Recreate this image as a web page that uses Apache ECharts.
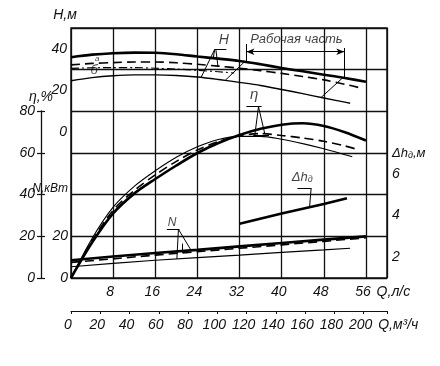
<!DOCTYPE html>
<html><head><meta charset="utf-8">
<script src="https://cdn.jsdelivr.net/npm/echarts@6/dist/echarts.min.js"></script>
<style>html,body{margin:0;padding:0;background:#fff}#c{width:440px;height:366px}</style>
</head><body><div id="c"></div>
<script>
// ---- data (Q in l/s) ----
const Q_H   = [0,4,8,12,16,20,24,28,32,36,40,44,48,52,56];
const H_full= [36.0,37.2,37.9,38.2,38.1,37.4,36.3,35.3,34.2,32.6,30.8,29.2,27.6,26.0,24.2];
const Q_Ha  = [0,4,8,12,16,20,24,28,32,36,40,44,48,52,55];
const H_a   = [32.3,33.0,33.4,33.7,33.7,33.3,32.6,31.7,30.7,29.5,28.2,26.7,25.1,23.0,21.2];
const Q_Hc  = [0,4,8,12,16,20,24,28,31];
const H_c   = [30.6,30.9,31.0,31.0,30.7,30.3,29.7,29.0,28.4];
const Q_Hb  = [0,4,8,12,16,20,24,28,32,36,40,44,48,52,53];
const H_b   = [24.7,26.2,27.1,27.5,27.5,27.2,26.5,25.3,23.9,22.4,20.5,18.5,16.4,14.4,13.9];

const Q_eta   = [0,4,8,12,16,20,24,28,32,36,40,44,48,52,56];
const eta_full= [0,17,31,40.5,47.5,54,60,64.8,68.6,71.6,73.6,74.3,73,70,66];
const Q_eta_a = [0,4,8,12,16,20,24,28,32,36,40,44,48,52,54];
const eta_a   = [0,18,32.5,42,49.5,56,61.5,65.5,68.3,69.3,68.4,67.2,65.6,63.4,62];
const Q_eta_b = [0,4,8,12,16,20,24,28,32,36,40,44,48,52,53.4];
const eta_b   = [0,19,34,44,51.5,58,63,66.5,68,68,66.6,64.5,62,59.2,58.2];

const Q_N   = [0,8,16,24,32,40,48,56];
const N_full= [8.5,10.3,12,13.5,15.2,16.8,18.4,20];
const N_a   = [7.5,9.2,11,12.6,14.3,15.9,17.6,19.3];
const Q_Nb  = [0,8,16,24,32,40,48,53];
const N_b   = [5.4,7,8.5,9.8,11,12.3,13.5,14.3];

const Q_dh = [32,40,48,52.4];
const dh   = [3.6,4.1,4.55,4.83];

// tick labels
const H_ticks   = [0,20,40];
const N_ticks   = [0,20];
const dh_ticks  = [2,4,6];
const FONT = "'Liberation Sans',Arial,sans-serif";
const INK = '#111';
const TXT = {fontFamily:FONT, fontStyle:'italic', fontSize:14, color:INK};

function pairs(qs, vs){ return qs.map((q,i)=>[q, vs[i]]); }
function seg(a,b){ return [{coord:a},{coord:b}]; }

const baseLine = (name, data, yIdx, width, type, extra) => Object.assign({
  name, type:'line', xAxisIndex:0, yAxisIndex:yIdx, data, symbol:'none', smooth:0.3,
  silent:true, animation:false,
  lineStyle:{color:'#000', width, type}
}, extra||{});
const ML = (data) => ({silent:true, animation:false, symbol:['none','none'], label:{show:false},
  lineStyle:{color:'#000', width:1, type:'solid'}, emphasis:{disabled:true}, data});

const textSeries = (yIdx, items) => ({
  type:'scatter', xAxisIndex:0, yAxisIndex:yIdx, symbolSize:1, silent:true, animation:false,
  itemStyle:{color:'rgba(0,0,0,0)'},
  label:{show:true, position:'inside', ...TXT},
  data: items.map(it => ({value:[it[0],it[1]], label:Object.assign({formatter:it[2]}, it[3]||{})}))
});

const option = {
  backgroundColor:'#fff',
  animation:false,
  grid:[
    {left:71, top:28, width:316, height:250, show:true, borderColor:INK, borderWidth:1.5, outerBoundsMode:'none', containLabel:false},
    {left:41, top:111, width:1, height:167, show:false, outerBoundsMode:'none', containLabel:false}
  ],
  xAxis:[
    {type:'value', gridIndex:0, min:0, max:60, interval:8, position:'bottom',
     axisLine:{show:false, onZero:false}, axisTick:{show:false},
     splitLine:{show:true, lineStyle:{color:INK, width:1.3}},
     axisLabel:{...TXT, margin:7, padding:[0,6,0,0], hideOverlap:false,
       formatter:v => (v===0||v===60)?'':String(v)},
     name:'Q,л/с', nameLocation:'end', nameGap:-11,
     nameTextStyle:{...TXT, verticalAlign:'top', padding:[7,0,0,0]}},
    {type:'value', gridIndex:0, min:0, max:216, interval:20, position:'bottom', offset:33,
     axisLine:{show:true, onZero:false, lineStyle:{color:INK, width:1}},
     axisTick:{show:true, length:3, lineStyle:{color:INK, width:1}},
     splitLine:{show:false},
     axisLabel:{...TXT, margin:7, padding:[0,6,0,0], hideOverlap:false,
       formatter:v => v===216?'':String(v)},
     name:'Q,м³/ч', nameLocation:'end', nameGap:-19,
     nameTextStyle:{...TXT, verticalAlign:'top', padding:[7,0,0,0]}},
    {type:'value', gridIndex:1, min:0, max:1, show:false}
  ],
  yAxis:[
    {type:'value', gridIndex:0, position:'left', min:-70, max:50, interval:10,
     axisLine:{show:false, onZero:false}, axisTick:{show:false}, splitLine:{show:false},
     axisLabel:{...TXT, margin:4, formatter:v => H_ticks.includes(v)?String(v):''},
     name:'H,м', nameLocation:'end', nameGap:6,
     nameTextStyle:{...TXT, padding:[0,12,0,0]}},
    {type:'value', gridIndex:0, position:'left', min:0, max:120, interval:20,
     axisLine:{show:false, onZero:false}, axisTick:{show:false}, axisLabel:{show:false},
     splitLine:{show:true, lineStyle:{color:INK, width:1.3}}},
    {type:'value', gridIndex:0, position:'left', min:0, max:120, interval:1,
     axisLine:{show:false, onZero:false}, axisTick:{show:false}, splitLine:{show:false},
     axisLabel:{...TXT, margin:3, formatter:v => N_ticks.includes(v)?String(v):(v===43?'{n|N,кВт}':''),
       rich:{n:{...TXT, fontSize:12}}}},
    {type:'value', gridIndex:0, position:'right', min:1, max:13, interval:1,
     axisLine:{show:false, onZero:false}, axisTick:{show:false}, splitLine:{show:false},
     axisLabel:{...TXT, margin:5, formatter:v => dh_ticks.includes(v)?String(v):(v===7?'{a|Δh}{s|д}{a|,м}':''),
       rich:{a:{...TXT, fontSize:13}, s:{...TXT, fontSize:9, padding:[5,0,0,0]}}}},
    {type:'value', gridIndex:1, position:'left', min:0, max:80, interval:20,
     axisLine:{show:true, onZero:false, lineStyle:{color:INK, width:1.3}},
     axisTick:{show:true, length:4, lineStyle:{color:INK, width:1.2}},
     splitLine:{show:false},
     axisLabel:{...TXT, margin:6},
     name:'η,%', nameLocation:'end', nameGap:5, nameTextStyle:{...TXT}},
    {type:'value', gridIndex:1, position:'left', min:0, max:80, interval:20,
     axisLine:{show:false, onZero:false}, axisLabel:{show:false}, splitLine:{show:false},
     axisTick:{show:true, inside:true, length:4, lineStyle:{color:INK, width:1.2}}}
  ],
  series:[
    baseLine('H', pairs(Q_H,H_full), 0, 2.6, 'solid', {markLine: ML([
      // working-part bracket
      [{coord:[33.3,38.6], symbol:'arrow', symbolSize:[5,8]},{coord:[51.9,38.6], symbol:'arrow', symbolSize:[5,8]}],
      seg([33.3,42.3],[33.3,34.0]),
      seg([51.9,40.4],[51.9,26.0]),
      // working-range boundaries across curves
      seg([33.0,33.9],[29.3,24.9]),
      seg([51.6,26.1],[47.5,16.7]),
      // H leader
      seg([27.3,39.8],[29.5,39.8]),
      seg([27.3,39.8],[27.0,35.5]),
      seg([27.5,39.8],[27.9,31.6]),
      seg([27.3,39.8],[24.7,26.3])
    ])}),
    baseLine('H a', pairs(Q_Ha,H_a), 0, 1.6, [9,5]),
    baseLine('H c', pairs(Q_Hc,H_c), 0, 1.1, [8,3,2,3]),
    baseLine('H b', pairs(Q_Hb,H_b), 0, 1.4, 'solid'),
    baseLine('η', pairs(Q_eta,eta_full), 1, 2.6, 'solid', {markLine: ML([
      seg([33.3,82.2],[36.2,82.2]),
      seg([35.6,82.2],[34.9,68.6]),
      seg([35.6,82.2],[36.8,69.2]),
      seg([34.6,68.6],[37.6,68.6])
    ])}),
    baseLine('η a', pairs(Q_eta_a,eta_a), 1, 1.6, [9,5]),
    baseLine('η b', pairs(Q_eta_b,eta_b), 1, 1.1, 'solid'),
    baseLine('N', pairs(Q_N,N_full), 2, 2.6, 'solid', {smooth:false, markLine: ML([
      seg([18.2,23.4],[20.6,23.4]),
      seg([20.4,23.4],[20.1,9.2]),
      seg([20.4,23.4],[22.8,13.3]),
      seg([21.2,16.5],[21.2,12.1])
    ])}),
    baseLine('N a', pairs(Q_N,N_a), 2, 1.6, [9,5], {smooth:false}),
    baseLine('N b', pairs(Q_Nb,N_b), 2, 1.1, 'solid', {smooth:false}),
    baseLine('Δh', pairs(Q_dh,dh), 3, 2.6, 'solid', {smooth:false, markLine: ML([
      seg([43.0,5.32],[45.6,5.32]),
      seg([45.6,5.32],[45.3,4.42])
    ])}),
    textSeries(0, [
      [29,44.3,'H',{fontSize:14}],
      [42.8,44.6,'Рабочая часть',{fontSize:13}],
      [5.0,35.4,'а',{fontSize:8}],
      [4.4,29.8,'б',{fontSize:13}]
    ]),
    textSeries(1, [[34.8,88,'η',{fontSize:15}]]),
    textSeries(2, [[19.2,26.4,'N',{fontSize:12}]]),
    textSeries(3, [[43.9,5.85,'{a|Δh}{s|д}',{rich:{a:{...TXT, fontSize:13}, s:{...TXT, fontSize:9, padding:[5,0,0,0]}}}]])
  ]
};
const chart = echarts.init(document.getElementById('c'), null, {renderer:'canvas'});
chart.setOption(option);
</script></body></html>
